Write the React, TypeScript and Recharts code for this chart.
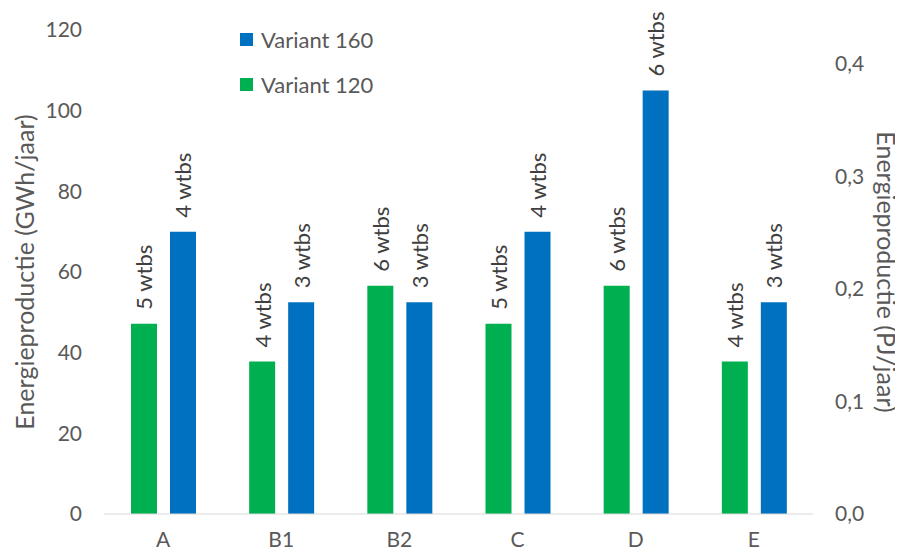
import { Bar, ComposedChart, LabelList, Legend, Line, XAxis, YAxis } from "recharts";

const categories = ["A", "B1", "B2", "C", "D", "E"];
const variant120 = [47.2, 37.8, 56.6, 47.2, 56.6, 37.8];
const variant160 = [70, 52.5, 52.5, 70, 105, 52.5];
const turbines120 = [5, 4, 6, 5, 6, 4];
const turbines160 = [4, 3, 3, 4, 6, 3];
const leftTicks = [0, 20, 40, 60, 80, 100, 120];
const rightTicks = [0, 0.1, 0.2, 0.3, 0.4];

// 1 GWh = 0.0036 PJ, so the right axis mirrors the left one
const GWH_TO_PJ = 0.0036;
const RIGHT_MAX = 0.43;
const GREEN = "#00b050";
const BLUE = "#0070c0";
const TEXT = "#595959";
const FONT = "Lato, 'Noto Sans', sans-serif";

const data = categories.map((name, i) => ({
  name,
  v120: variant120[i],
  v160: variant160[i],
  pj160: variant160[i] * GWH_TO_PJ,
  lbl120: `${turbines120[i]} wtbs`,
  lbl160: `${turbines160[i]} wtbs`
}));

function BarLabel(props: any) {
  const { x, y, width, value } = props;
  const cx = x + width / 2;
  const ty = y - 14;
  return (
    <text
      x={cx}
      y={ty}
      transform={`rotate(-90, ${cx}, ${ty})`}
      textAnchor="start"
      dominantBaseline="central"
      fill="#404040"
      fontSize={22}
      fontFamily={FONT}
    >
      {value}
    </text>
  );
}

function LegendBox(props: any) {
  const items = [...(props.payload || [])].filter((p: any) => p.type !== "none").reverse();
  return (
    <div style={{ fontFamily: FONT, fontSize: 22, color: TEXT }}>
      {items.map((item: any) => (
        <div key={item.value} style={{ display: "flex", alignItems: "center", height: 45 }}>
          <span style={{ width: 13, height: 13, background: item.color, marginRight: 8 }} />
          {item.value}
        </div>
      ))}
    </div>
  );
}

function axisTitle(text: string, side: "left" | "right") {
  return (props: any) => {
    const vb = props.viewBox;
    const cx = side === "left" ? vb.x + 24 : vb.x + 74;
    const cy = vb.y + vb.height / 2;
    return (
      <text
        x={cx}
        y={cy}
        transform={`rotate(${side === "left" ? -90 : 90}, ${cx}, ${cy})`}
        textAnchor="middle"
        dominantBaseline="central"
        fill={TEXT}
        fontSize={25}
        fontFamily={FONT}
      >
        {text}
      </text>
    );
  };
}

const pj = (v: number) => v.toFixed(1).replace(".", ",");

export default function App() {
  return (
    <div style={{ margin: -8, width: 903, height: 555, background: "#fff", fontFamily: FONT }}>
      <ComposedChart
        width={903}
        height={555}
        data={data}
        margin={{ top: 30, right: 0, bottom: 0, left: 0 }}
        barSize={26}
        barGap={13}
      >
        <XAxis
          dataKey="name"
          height={41}
          tickLine={false}
          tickSize={0}
          tickMargin={18}
          stroke="#d9d9d9"
          tick={{ fill: TEXT, fontSize: 21, fontFamily: FONT }}
        />
        <YAxis
          yAxisId="left"
          width={104}
          domain={[0, 120]}
          ticks={leftTicks}
          axisLine={false}
          tickLine={false}
          tickSize={0}
          tickMargin={22}
          tick={{ fill: TEXT, fontSize: 21, fontFamily: FONT }}
          label={{ content: axisTitle("Energieproductie (GWh/jaar)", "left") }}
        />
        <YAxis
          yAxisId="right"
          orientation="right"
          width={90}
          domain={[0, RIGHT_MAX]}
          ticks={rightTicks}
          tickFormatter={pj}
          axisLine={false}
          tickLine={false}
          tickSize={0}
          tickMargin={22}
          tick={{ fill: TEXT, fontSize: 21, fontFamily: FONT }}
          label={{ content: axisTitle("Energieproductie (PJ/jaar)", "right") }}
        />
        <Legend
          layout="vertical"
          align="center"
          verticalAlign="middle"
          wrapperStyle={{ left: 240, top: 17, width: 220 }}
          content={LegendBox}
        />
        <Bar yAxisId="left" dataKey="v120" name="Variant 120" fill={GREEN} isAnimationActive={false}>
          <LabelList dataKey="lbl120" content={BarLabel} />
        </Bar>
        <Bar yAxisId="left" dataKey="v160" name="Variant 160" fill={BLUE} isAnimationActive={false}>
          <LabelList dataKey="lbl160" content={BarLabel} />
        </Bar>
        {/* invisible series in PJ so the right axis is bound to data */}
        <Line
          yAxisId="right"
          dataKey="pj160"
          stroke="none"
          dot={false}
          activeDot={false}
          legendType="none"
          isAnimationActive={false}
        />
      </ComposedChart>
    </div>
  );
}
